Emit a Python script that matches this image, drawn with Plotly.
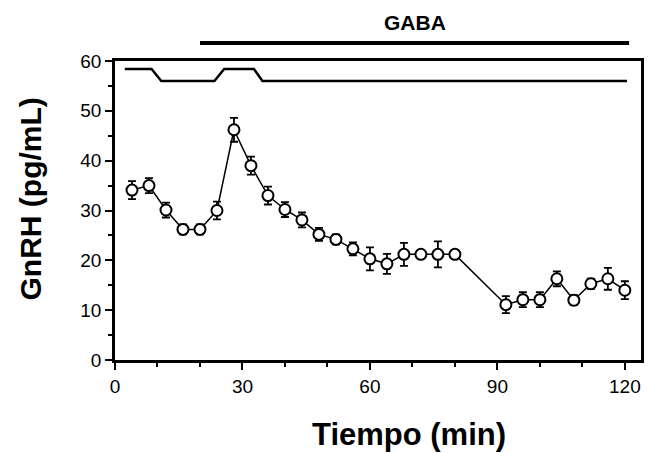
import plotly.graph_objects as go

# GnRH release over time, GABA applied from 20 to 120 min
tiempo = [4, 8, 12, 16, 20, 24, 28, 32, 36, 40, 44, 48, 52, 56, 60, 64, 68, 72, 76, 80,
          92, 96, 100, 104, 108, 112, 116, 120]
gnrh = [34.1, 35.0, 30.1, 26.2, 26.2, 30.0, 46.2, 39.0, 33.0, 30.2, 28.1, 25.2, 24.2, 22.3,
        20.3, 19.3, 21.2, 21.2, 21.2, 21.2, 11.1, 12.1, 12.1, 16.3, 12.0, 15.3, 16.3, 14.0]
sem = [1.8, 1.5, 1.5, 1.0, 1.0, 1.8, 2.4, 1.8, 1.8, 1.5, 1.5, 1.3, 1.0, 1.3,
       2.3, 2.0, 2.3, 0.5, 2.6, 0.5, 1.7, 1.5, 1.5, 1.5, 1.0, 1.0, 2.2, 1.8]

# stepped marker trace at the top of the plot
paso_x = [2.3, 8.6, 10.9, 23.4, 25.7, 32.7, 34.7, 120.5]
paso_y = [58.4, 58.4, 56.0, 56.0, 58.4, 58.4, 56.0, 56.0]

# GABA bar extent (min)
gaba_inicio, gaba_fin = 20, 121

x_ticks = [0, 30, 60, 90, 120]
y_ticks = [0, 10, 20, 30, 40, 50, 60]

fig = go.Figure()

fig.add_trace(go.Scatter(
    x=paso_x, y=paso_y, mode="lines",
    line=dict(color="black", width=2.5),
    showlegend=False, hoverinfo="skip",
))

fig.add_trace(go.Scatter(
    x=tiempo, y=gnrh, mode="lines+markers",
    line=dict(color="black", width=1.5),
    marker=dict(symbol="circle", size=11, color="white",
                line=dict(color="black", width=2)),
    error_y=dict(type="data", array=sem, visible=True,
                 color="black", thickness=1.8, width=4),
    showlegend=False,
))

bold = "Liberation Sans, Arial"

fig.add_shape(type="line", xref="x", yref="paper",
              x0=gaba_inicio, x1=gaba_fin, y0=1.06, y1=1.06,
              line=dict(color="black", width=4))
fig.add_annotation(x=(gaba_inicio + gaba_fin) / 2, xref="x", y=1.13, yref="paper",
                   yanchor="middle", text="<b>GABA</b>", showarrow=False,
                   font=dict(family=bold, size=21, color="black"))

# axis titles
fig.add_annotation(x=0.5, xref="paper", y=-0.248, yref="paper",
                   xshift=31, yanchor="middle",
                   text="<b>Tiempo (min)</b>", showarrow=False,
                   font=dict(family=bold, size=31, color="black"))
fig.add_annotation(x=0, xref="paper", y=0.5, yref="paper",
                   xshift=-85, yshift=11, xanchor="center", yanchor="middle",
                   textangle=-90, text="<b>GnRH (pg/mL)</b>", showarrow=False,
                   font=dict(family=bold, size=30, color="black"))

tick_font = dict(family="Liberation Sans, Arial", size=19, color="black")

fig.update_xaxes(
    range=[0, 123.8], tickvals=x_ticks, ticktext=[str(v) for v in x_ticks],
    ticks="outside", ticklen=7, tickwidth=2, tickcolor="black",
    minor=dict(tickvals=[10, 20, 40, 50, 70, 80, 100, 110], ticks="outside",
               ticklen=4, tickwidth=2, tickcolor="black"),
    showline=True, linecolor="black", linewidth=2.5, mirror=True,
    showgrid=False, zeroline=False, tickfont=tick_font,
)
fig.update_yaxes(
    range=[0, 60], tickvals=y_ticks,
    ticks="outside", ticklen=7, tickwidth=2, tickcolor="black",
    minor=dict(tickvals=[5, 15, 25, 35, 45, 55], ticks="outside",
               ticklen=4, tickwidth=2, tickcolor="black"),
    showline=True, linecolor="black", linewidth=2.5, mirror=True,
    showgrid=False, zeroline=False, tickfont=tick_font,
)

fig.update_layout(
    width=650, height=453,
    margin=dict(l=115, r=6, t=61, b=93),
    plot_bgcolor="white", paper_bgcolor="white",
)

fig.write_html("out.html")
